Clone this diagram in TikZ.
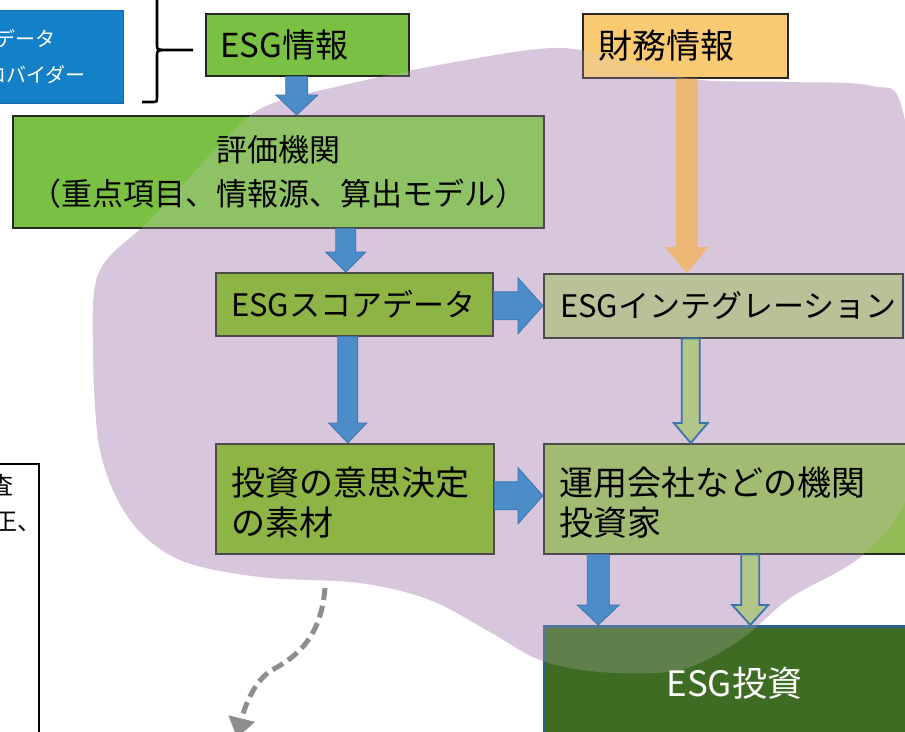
\documentclass[tikz,border=0pt]{standalone}
\usepackage{fontspec}
\newfontfamily\jp{Noto Sans CJK JP}
\usetikzlibrary{calc,arrows.meta}
\definecolor{blobc}{HTML}{D8C6DC}
\definecolor{gboxc}{HTML}{7AC143}
\definecolor{scorec}{HTML}{7AB01C}
\definecolor{integc}{HTML}{AFC085}
\definecolor{unyoc}{HTML}{92BA55}
\definecolor{zaimuc}{HTML}{F9CA72}
\definecolor{provc}{HTML}{1380C8}
\definecolor{provb}{HTML}{1668A8}
\definecolor{investc}{HTML}{3E6C23}
\definecolor{investb}{HTML}{2D5F8C}
\definecolor{arrb}{HTML}{4B8CC9}
\definecolor{arrbd}{HTML}{3B74AD}
\definecolor{hollowc}{HTML}{B3C689}
\definecolor{orangec}{HTML}{F3B35A}
\definecolor{dashc}{HTML}{8E8E8E}

% vertical block arrow: x and y of tip from #3, y of start from #2
\newcommand\vblk[6][]{%
  \path[#1] let \p1=(#2), \p2=(#3) in
   (\x2-#4,\y1) -- (\x2-#4,\y2+#6) -- (\x2-#5,\y2+#6) -- (\x2,\y2)
   -- (\x2+#5,\y2+#6) -- (\x2+#4,\y2+#6) -- (\x2+#4,\y1) -- cycle;}
% horizontal block arrow: x of start from #2, tip from #3
\newcommand\hblk[6][]{%
  \path[#1] let \p1=(#2), \p2=(#3) in
   (\x1,\y2+#4) -- (\x2-#6,\y2+#4) -- (\x2-#6,\y2+#5) -- (\x2,\y2)
   -- (\x2-#6,\y2-#5) -- (\x2-#6,\y2-#4) -- (\x1,\y2-#4) -- cycle;}

\begin{document}
\begin{tikzpicture}[x=1pt,y=-1pt,
  myblob/.style={insert path={plot[smooth cycle,tension=0.55] coordinates{(262,108) (340,86) (450,63) (560,48) (640,66) (700,80) (790,82) (872,86) (903,112) (925,300) (912,480) (865,553) (790,598) (740,640) (680,670) (600,672) (540,660) (490,632) (430,600) (360,583) (260,577) (180,560) (130,520) (100,450) (93,340) (100,270) (150,220) (215,150)}}},
  box/.style={draw=black!85, line width=1.5pt, inner sep=0, anchor=north west},
  txt/.style={inner sep=0},
  t20/.style={txt, font=\jp\fontsize{20}{36}\selectfont},
  t24/.style={txt, font=\jp\fontsize{24}{38}\selectfont},
  t31/.style={txt, font=\jp\fontsize{31}{44}\selectfont},
  t33/.style={txt, font=\jp\fontsize{33}{40}\selectfont},
  t34/.style={txt, font=\jp\fontsize{34}{40}\selectfont},
  t35/.style={txt, font=\jp\fontsize{35}{40}\selectfont},
  blueblk/.style={fill=arrb, draw=arrbd, line width=0.8pt},
  hollowblk/.style={fill=hollowc, draw=arrbd, line width=1.8pt},
  orangeblk/.style={fill=orangec, fill opacity=0.78, draw=none},
  brace/.style={draw=black, line width=2.6pt},
  dasharrow/.style={draw=dashc, line width=5pt, dash pattern=on 12pt off 6pt, -{Triangle[length=20pt,width=26pt]}}
]
\useasboundingbox (0,0) rectangle (905,731);
\clip (0,0) rectangle (905,731);
\fill[white] (0,0) rectangle (905,731);

% purple background blob
\fill[blobc, myblob];

% boxes (shapes)
\node[box, fill=provc, draw=provb, line width=1pt, minimum width=195, minimum height=93] (prov) at (-72,10) {};
\node[box, fill=gboxc, minimum width=203, minimum height=62] (esg) at (205,13) {};
\node[box, fill=zaimuc, minimum width=205, minimum height=64] (zaimu) at (582,13) {};
\node[box, fill=gboxc, minimum width=531, minimum height=112] (hyoka) at (12,115) {};
\node[box, fill=scorec, minimum width=277, minimum height=63] (score) at (215,272) {};
\node[box, fill=integc, minimum width=359, minimum height=64] (integ) at (543,273) {};
\node[box, fill=scorec, minimum width=278, minimum height=110] (ishi) at (215,443) {};
\node[box, fill=unyoc, minimum width=370, minimum height=110] (unyo) at (543,443) {};
\node[box, fill=investc, draw=investb, line width=2.5pt, minimum width=380, minimum height=130] (invest) at (543,625) {};
\node[box, fill=white, draw=black, minimum width=100, minimum height=300] (lbox) at (-62,463) {};

% translucent blob over the boxes
\fill[blobc, fill opacity=0.22, myblob];

% arrows
\vblk[orangeblk]{zaimu.south}{$(integ.north)+(-36.5,0)$}{11pt}{22pt}{26pt}
\vblk[blueblk]{esg.south}{$(hyoka.north)+(18.5,0)$}{11pt}{21pt}{20pt}
\vblk[blueblk]{hyoka.south}{$(score.north)+(-8.5,0)$}{10pt}{20pt}{20pt}
\vblk[blueblk]{score.south}{$(ishi.north)+(-7,0)$}{10pt}{19pt}{20pt}
\hblk[blueblk]{score.east}{integ.west}{14pt}{28pt}{25pt}
\hblk[blueblk]{ishi.east}{$(unyo.west)+(0,-3)$}{14pt}{28pt}{25pt}
\vblk[hollowblk]{integ.south}{$(unyo.north)+(-38,0)$}{9pt}{17pt}{20pt}
\vblk[blueblk]{unyo.south}{$(invest.north)+(-136,0)$}{11pt}{21pt}{20pt}
\vblk[hollowblk]{unyo.south}{$(invest.north)+(16,0)$}{9pt}{18pt}{20pt}

% brace
\coordinate (brt) at (193,50);
\draw[brace] (157,-10) -- (157,45) .. controls (157,49) .. (162,50) -- (brt);
\draw[brace] (162,50) .. controls (157,51) .. (157,56) -- (157,97) .. controls (157,102) .. (152,102) -- (142,102);

% dashed curved arrow
\coordinate (dstart) at (325,588);
\coordinate (dmid) at (272,670);
\coordinate (dend) at (237,738);
\draw[dasharrow] (dstart) .. controls (321,635) and (300,655) .. (dmid) .. controls (255,680) and (245,705) .. (dend);

% texts
\node[t20, text=white, align=center] (prov-t) at (prov) {データ\\プロバイダー};
\node[t33, anchor=west] (esg-t) at ($(esg.west)+(15,0)$) {ESG情報};
\node[t34, anchor=west] (zaimu-t) at ($(zaimu.west)+(16,0)$) {財務情報};
\node[t31, align=center] (hyoka-t) at (hyoka) {評価機関\\（重点項目、情報源、算出モデル）};
\node[t31, anchor=west] (score-t) at ($(score.west)+(16,0)$) {ESGスコアデータ};
\node[t31, anchor=west] (integ-t) at ($(integ.west)+(17,0)$) {ESGインテグレーション};
\node[t34, anchor=west, align=left] (ishi-t) at ($(ishi.west)+(16,4)$) {投資の意思決定\\の素材};
\node[t34, anchor=west, align=left] (unyo-t) at ($(unyo.west)+(16,4)$) {運用会社などの機関\\投資家};
\node[t35, text=white] (invest-t) at ($(invest.north)+(0,58)$) {ESG投資};
\node[t24, anchor=base west] (lb1) at (-11,494) {査};
\node[t24, anchor=base west] (lb2) at (-7,530) {正、};
\end{tikzpicture}
\end{document}
